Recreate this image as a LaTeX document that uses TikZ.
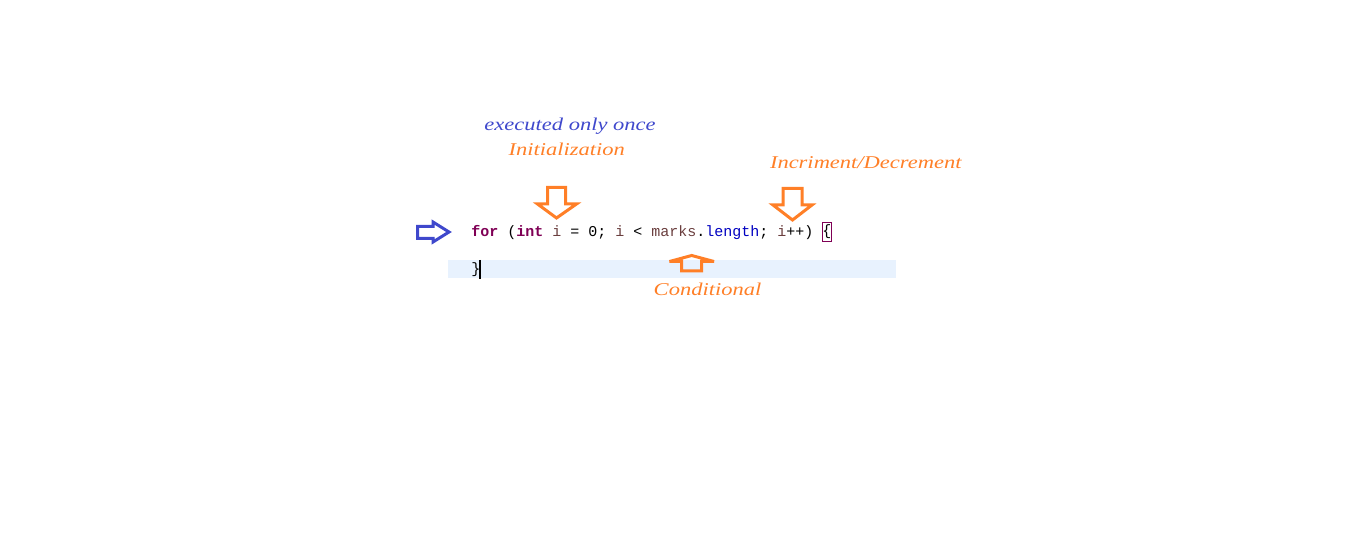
\documentclass[tikz,border=0pt]{standalone}
\usepackage{fontspec}
\usepackage{xcolor}
\newfontfamily\codefont{Liberation Mono}
\newfontfamily\notefont[FakeStretch=1.25]{Liberation Serif}

\begin{document}
\begin{tikzpicture}
		[x={(0.75pt,0pt)},y={(0pt,-0.75pt)},line cap=butt,
		%Styles
		code/.style={inner sep=0pt,font=\codefont\fontsize{11.25pt}{13pt}\selectfont},
		note/.style={inner sep=0pt,anchor=base,font=\notefont\itshape\fontsize{13.5pt}{16pt}\selectfont},
		fat arrow/.style={draw=#1,line width=2.25pt,line join=miter},
		bracket box/.style={draw=keyword,line width=.6pt,inner xsep=0pt,minimum height=14.25pt}
		]
		
		%Colors
		\definecolor{keyword}{HTML}{7F0055}	%for, int
		\definecolor{localvar}{HTML}{6A3E3E}
		\definecolor{field}{HTML}{0000C0}
		\definecolor{noteorange}{HTML}{FF7F27}
		\definecolor{noteblue}{HTML}{3F48CC}
		\definecolor{linehl}{HTML}{E8F2FE}
		
		\useasboundingbox (0,0) rectangle (1350,555);
		
		%Current line
		\fill[linehl] (448,260) rectangle (896,278);
		
		%The graphic
		\node[note,text=noteblue] (once) at (570,130.7) {executed only once};
		\node[note,text=noteorange] (init) at (566.7,155.7) {Initialization};
		\node[note,text=noteorange] (incr) at (865.8,168.7) {Incriment/Decrement};
		\node[note,text=noteorange] (cond) at (707.5,295.7) {Conditional};
		
		\node[code,anchor=base west] (forline) at (471,236.5) {\textcolor{keyword}{\bfseries for} (\textcolor{keyword}{\bfseries int} \textcolor{localvar}{i} = 0; \textcolor{localvar}{i} < \textcolor{localvar}{marks}.\textcolor{field}{length}; \textcolor{localvar}{i}++)};
		\node[code,bracket box,anchor=west] (brace) at (822,231.5) {\{};
		\node[code,anchor=base west] (close) at (471,274) {\}};
		\draw[line width=1.5pt] (479.5,260) -- (479.5,279);
		
		%Arrows
		\draw[fat arrow=noteblue] (417.5,226.5) -- (433,226.5) -- (433,222) -- (449,232) -- (433,242) -- (433,238.5) -- (417.5,238.5) -- cycle;
		\draw[fat arrow=noteorange] (547.5,187.5) -- (565.5,187.5) -- (565.5,204) -- (576.5,204) -- (556.5,218) -- (537.5,204) -- (547.5,204) -- cycle;
		\draw[fat arrow=noteorange] (783,188.5) -- (802,188.5) -- (802,205) -- (812,205) -- (792.5,220) -- (773,205) -- (783,205) -- cycle;
		\draw[fat arrow=noteorange,miter limit=1.5] (681.5,271) -- (701.5,271) -- (701.5,261.5) -- (714,261.5) -- (691.7,255.5) -- (669.5,261.5) -- (681.5,261.5) -- cycle;
	\end{tikzpicture}
\end{document}
